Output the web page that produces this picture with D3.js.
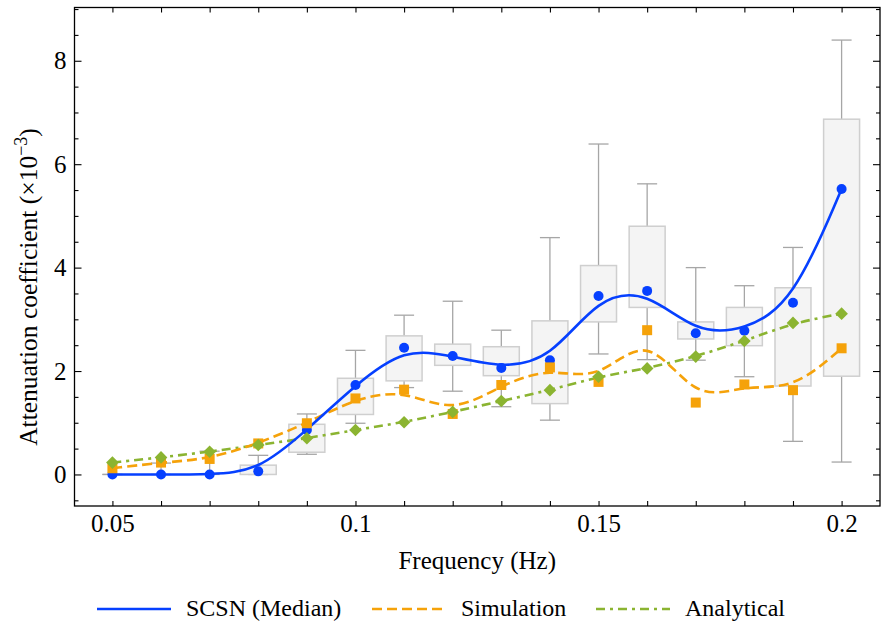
<!DOCTYPE html>
<html>
<head>
<meta charset="utf-8">
<script src="https://cdn.jsdelivr.net/npm/d3@7"></script>
<style>
  body { margin: 0; background: #fff; }
  text { font-family: "Liberation Serif", "DejaVu Serif", serif; fill: #000; }
</style>
</head>
<body>
<div id="chart"></div>
<script>
// frequencies (Hz)
var freqs = [0.05, 0.06, 0.07, 0.08, 0.09, 0.10, 0.11, 0.12, 0.13, 0.14, 0.15, 0.16, 0.17, 0.18, 0.19, 0.20];

// SCSN distribution (x 1e-3)
var scsnMedian = [0, 0, 0, 0.06, 0.86, 1.73, 2.45, 2.29, 2.06, 2.21, 3.45, 3.55, 2.73, 2.78, 3.32, 5.52];
var boxQ1 = [0, 0, 0, 0, 0.43, 1.16, 1.81, 2.11, 1.91, 1.37, 2.95, 3.23, 2.62, 2.49, 1.71, 1.90];
var boxQ3 = [0, 0, 0, 0.18, 0.97, 1.86, 2.68, 2.52, 2.47, 2.97, 4.04, 4.80, 2.95, 3.23, 3.61, 6.87];
var whiskLo = [0, 0, 0, 0, 0.39, 0.99, 1.68, 1.61, 1.31, 1.05, 2.33, 2.22, 2.21, 1.89, 0.64, 0.24];
var whiskHi = [0, 0.22, 0.45, 0.37, 1.17, 2.40, 3.08, 3.35, 2.79, 4.58, 6.39, 5.62, 4.00, 3.65, 4.39, 8.40];

var simulation = [0.12, 0.23, 0.30, 0.60, 0.99, 1.47, 1.64, 1.17, 1.73, 2.07, 1.79, 2.79, 1.39, 1.74, 1.63, 2.44];
var analytical = [0.23, 0.33, 0.44, 0.57, 0.70, 0.86, 1.01, 1.21, 1.42, 1.63, 1.89, 2.05, 2.28, 2.58, 2.93, 3.11];

var xTickLabels = [0.05, 0.1, 0.15, 0.2];
var yTickLabels = [0, 2, 4, 6, 8];

var width = 881, height = 623;
var plot = {left: 74.5, right: 880, top: 7.5, bottom: 506};

var svg = d3.select("#chart").append("svg")
  .attr("width", width)
  .attr("height", height);

var x = d3.scaleLinear().domain([0.0422, 0.2079]).range([plot.left, plot.right]);
var y = d3.scaleLinear().domain([-0.61, 9.03]).range([plot.bottom, plot.top]);

var blue = "#0640ff", orange = "#f5a20a", green = "#8bb431";

// boxes
var boxW = (x(0.06) - x(0.05)) * 0.74;
var capW = 20;
var boxes = svg.append("g");
freqs.forEach(function(f, i) {
  var cx = x(f);
  boxes.append("line")
    .attr("x1", cx).attr("x2", cx)
    .attr("y1", y(whiskHi[i])).attr("y2", y(boxQ3[i]))
    .attr("stroke", "#a6a6a6").attr("stroke-width", 1.3);
  boxes.append("line")
    .attr("x1", cx).attr("x2", cx)
    .attr("y1", y(whiskLo[i])).attr("y2", y(boxQ1[i]))
    .attr("stroke", "#a6a6a6").attr("stroke-width", 1.3);
  [whiskHi[i], whiskLo[i]].forEach(function(v) {
    boxes.append("line")
      .attr("x1", cx - capW / 2).attr("x2", cx + capW / 2)
      .attr("y1", y(v)).attr("y2", y(v))
      .attr("stroke", "#a6a6a6").attr("stroke-width", 1.3);
  });
  boxes.append("rect")
    .attr("x", cx - boxW / 2)
    .attr("y", y(boxQ3[i]))
    .attr("width", boxW)
    .attr("height", y(boxQ1[i]) - y(boxQ3[i]))
    .attr("fill", "#f3f3f3")
    .attr("fill-opacity", 0.9)
    .attr("stroke", "#cfcfcf")
    .attr("stroke-width", 1.5);
});

// smooth lines
var line = d3.line()
  .x(function(d, i) { return x(freqs[i]); })
  .y(function(d) { return y(d); })
  .curve(d3.curveBasis);

svg.append("path").attr("d", line(analytical))
  .attr("fill", "none").attr("stroke", green).attr("stroke-width", 2.6)
  .attr("stroke-dasharray", "9,5,3,5");
svg.append("path").attr("d", line(simulation))
  .attr("fill", "none").attr("stroke", orange).attr("stroke-width", 2.6)
  .attr("stroke-dasharray", "10,5");
svg.append("path").attr("d", line(scsnMedian))
  .attr("fill", "none").attr("stroke", blue).attr("stroke-width", 2.6);

// markers
svg.selectAll(".dot").data(scsnMedian).enter().append("circle")
  .attr("cx", function(d, i) { return x(freqs[i]); })
  .attr("cy", function(d) { return y(d); })
  .attr("r", 5)
  .attr("fill", blue);

svg.selectAll(".sq").data(simulation).enter().append("rect")
  .attr("x", function(d, i) { return x(freqs[i]) - 5; })
  .attr("y", function(d) { return y(d) - 5; })
  .attr("width", 10).attr("height", 10)
  .attr("fill", orange);

svg.selectAll(".dia").data(analytical).enter().append("path")
  .attr("d", d3.symbol().type(d3.symbolSquare).size(80))
  .attr("transform", function(d, i) {
    return "translate(" + x(freqs[i]) + "," + y(d) + ") rotate(45)";
  })
  .attr("fill", green);

// axes (ticks inward on all sides)
var minorY = d3.range(-0.5, 9.01, 0.5).filter(function(v) { return v % 2 !== 0; });

function ticksOnly(g) {
  g.select(".domain").remove();
  g.selectAll("line").attr("stroke", "#000").attr("stroke-width", 1.1);
}

svg.append("g").attr("transform", "translate(0," + plot.bottom + ")")
  .call(d3.axisBottom(x).tickValues(freqs).tickSize(-5).tickFormat(""))
  .call(ticksOnly);
svg.append("g").attr("transform", "translate(0," + plot.top + ")")
  .call(d3.axisTop(x).tickValues(freqs).tickSize(-5).tickFormat(""))
  .call(ticksOnly);
svg.append("g").attr("transform", "translate(" + plot.left + ",0)")
  .call(d3.axisLeft(y).tickValues(yTickLabels).tickSize(-7).tickFormat(""))
  .call(ticksOnly);
svg.append("g").attr("transform", "translate(" + plot.left + ",0)")
  .call(d3.axisLeft(y).tickValues(minorY).tickSize(-4).tickFormat(""))
  .call(ticksOnly);
svg.append("g").attr("transform", "translate(" + plot.right + ",0)")
  .call(d3.axisRight(y).tickValues(yTickLabels).tickSize(-7).tickFormat(""))
  .call(ticksOnly);
svg.append("g").attr("transform", "translate(" + plot.right + ",0)")
  .call(d3.axisRight(y).tickValues(minorY).tickSize(-4).tickFormat(""))
  .call(ticksOnly);

// tick labels
var xl = svg.append("g").attr("transform", "translate(0," + plot.bottom + ")")
  .call(d3.axisBottom(x).tickValues(xTickLabels).tickSize(0).tickPadding(8)
    .tickFormat(function(d) { return String(d); }));
xl.select(".domain").remove();
xl.selectAll("text").style("font-size", "25px").style("font-family", "Liberation Serif");

var yl = svg.append("g").attr("transform", "translate(" + plot.left + ",0)")
  .call(d3.axisLeft(y).tickValues(yTickLabels).tickSize(0).tickPadding(8)
    .tickFormat(function(d) { return String(d); }));
yl.select(".domain").remove();
yl.selectAll("text").style("font-size", "25px").style("font-family", "Liberation Serif");

// frame
svg.append("rect")
  .attr("x", plot.left).attr("y", plot.top)
  .attr("width", plot.right - plot.left).attr("height", plot.bottom - plot.top)
  .attr("fill", "none").attr("stroke", "#000").attr("stroke-width", 1.3);

// axis titles
svg.append("text")
  .attr("x", (plot.left + plot.right) / 2)
  .attr("y", 569)
  .attr("text-anchor", "middle")
  .style("font-size", "25px")
  .text("Frequency (Hz)");

var yt = svg.append("text")
  .attr("transform", "translate(37,287) rotate(-90)")
  .attr("text-anchor", "middle")
  .style("font-size", "25.5px");
yt.append("tspan").text("Attenuation coefficient (\u00d710");
yt.append("tspan").attr("dy", -10).style("font-size", "18px").text("\u22123");
yt.append("tspan").attr("dy", 10).text(")");

// legend
var legendItems = [
  {label: "SCSN (Median)", color: blue, dash: null, x: 97},
  {label: "Simulation", color: orange, dash: "10,5", x: 372},
  {label: "Analytical", color: green, dash: "9,5,3,5", x: 596}
];
var legend = svg.append("g");
legendItems.forEach(function(d) {
  legend.append("line")
    .attr("x1", d.x).attr("x2", d.x + 74)
    .attr("y1", 609).attr("y2", 609)
    .attr("stroke", d.color).attr("stroke-width", 2.6)
    .attr("stroke-dasharray", d.dash);
  legend.append("text")
    .attr("x", d.x + 89).attr("y", 616)
    .style("font-size", "24px")
    .text(d.label);
});
</script>
</body>
</html>
